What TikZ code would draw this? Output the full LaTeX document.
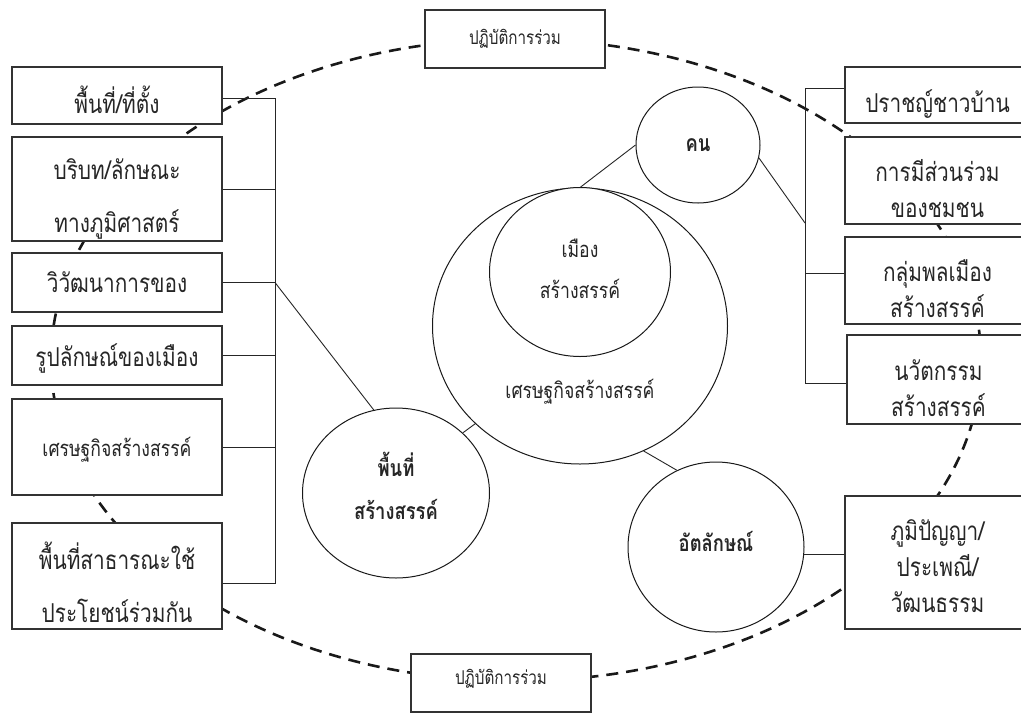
\documentclass[tikz,border=0pt]{standalone}
\usepackage{fontspec}
\newfontfamily\thai[Script=Thai,FakeStretch=0.8]{Loma}
\usetikzlibrary{shapes.geometric}
\begin{document}
\begin{tikzpicture}[x=1pt,y=-1pt,
  conn/.style={draw=black!85, line width=0.9pt},
  box/.style={draw=black!80, line width=1.1pt, fill=white, inner sep=0pt},
  txt/.style={inner sep=0pt, align=center, text=black!85},
  circ/.style={ellipse, draw=black!90, line width=1pt, fill=white, inner sep=0pt},
  lfont/.style={font=\thai\fontsize{26}{53}\selectfont},
  rfont/.style={font=\thai\fontsize{26}{36}\selectfont},
  mfont/.style={font=\thai\fontsize{22}{43}\selectfont},
  cfont/.style={font=\thai\fontsize{22}{41}\selectfont},
  sfont/.style={font=\thai\fontsize{19}{24}\selectfont},
  bfont/.style={font=\thai\bfseries\fontsize{23}{43}\selectfont},
  ring/.style={draw=black!90, line width=2.6pt, dash pattern=on 12pt off 8pt}
]
\clip (0,0) rectangle (1021,713);
\fill[white] (0,0) rectangle (1021,713);
% dashed ring
\coordinate (ec) at (516,360);
\draw[ring] (ec) ellipse [x radius=465, y radius=321];

% top / bottom boxes
\node[box,minimum width=180pt,minimum height=58pt] (T) at (515,39) {};
\node[txt,sfont] (Tt) at (T) {ปฏิบัติการร่วม};
\node[box,minimum width=180pt,minimum height=58pt] (B) at (501,683) {};
\node[txt,sfont] (Bt) at ([yshift=4pt]B) {ปฏิบัติการร่วม};

% left boxes
\node[box,minimum width=210pt,minimum height=57pt] (L1) at (117,95.5) {};
\node[txt,lfont] (L1t) at ([yshift=-4pt]L1) {พื้นที่/ที่ตั้ง};
\node[box,minimum width=210pt,minimum height=104pt] (L2) at (117,189) {};
\node[txt,lfont] (L2t) at ([yshift=-10pt]L2) {บริบท/ลักษณะ\\ทางภูมิศาสตร์};
\node[box,minimum width=210pt,minimum height=59pt] (L3) at (117,282.5) {};
\node[txt,lfont] (L3t) at (L3) {วิวัฒนาการของ};
\node[box,minimum width=210pt,minimum height=59pt] (L4) at (117,355.5) {};
\node[txt,lfont] (L4t) at ([yshift=-3pt]L4) {รูปลักษณ์ของเมือง};
\node[box,minimum width=210pt,minimum height=96pt] (L5) at (117,447) {};
\node[txt,mfont] (L5t) at ([yshift=-3pt]L5) {เศรษฐกิจสร้างสรรค์};
\node[box,minimum width=210pt,minimum height=106pt] (L6) at (117,576) {};
\node[txt,lfont] (L6t) at ([yshift=-6pt]L6) {พื้นที่สาธารณะใช้\\ประโยชน์ร่วมกัน};

% right boxes
\node[box,minimum width=185pt,minimum height=56pt] (R1) at (937.5,95) {};
\node[txt,rfont] (R1t) at ([yshift=-9pt]R1) {ปราชญ์ชาวบ้าน};
\node[box,minimum width=185pt,minimum height=87pt] (R2) at (937.5,180.5) {};
\node[txt,rfont] (R2t) at ([yshift=-8pt]R2) {การมีส่วนร่วม\\ของชมชน};
\node[box,minimum width=185pt,minimum height=87pt] (R3) at (937.5,280.5) {};
\node[txt,rfont] (R3t) at ([yshift=-8pt]R3) {กลุ่มพลเมือง\\สร้างสรรค์};
\node[box,minimum width=183pt,minimum height=89pt] (R4) at (938.5,379.5) {};
\node[txt,rfont] (R4t) at ([yshift=-9pt]R4) {นวัตกรรม\\สร้างสรรค์};
\node[box,minimum width=185pt,minimum height=133pt] (R5) at (937.5,562.5) {};
\node[txt,rfont] (R5t) at ([yshift=-4pt]R5) {ภูมิปัญญา/\\ประเพณี/\\วัฒนธรรม};

% circles
\node[circ,minimum width=295pt,minimum height=276pt] (eco) at (580,326) {};
\node[txt,mfont] (ecot) at ([yshift=-66pt]eco) {เศรษฐกิจสร้างสรรค์};
\node[circ,minimum width=181pt,minimum height=169pt] (city) at (580,272) {};
\node[txt,cfont] (cityt) at ([yshift=3pt]city) {เมือง\\สร้างสรรค์};
\node[circ,minimum width=124pt,minimum height=116pt] (kon) at (698,145) {};
\node[txt,bfont] (kont) at (kon) {คน};
\node[circ,minimum width=187pt,minimum height=170pt] (ps) at (396,493) {};
\node[txt,bfont] (pst) at ([yshift=7pt]ps) {พื้นที่\\สร้างสรรค์};
\node[circ,minimum width=176pt,minimum height=170pt] (idt) at (716,547) {};
\node[txt,bfont] (idtt) at ([yshift=6pt]idt) {อัตลักษณ์};

% left bracket
\coordinate (lbT) at (275,98);
\coordinate (lbB) at (275,583);
\draw[conn] ([yshift=-2.5pt]L1.east) -- (lbT) -- (lbB) -- ([yshift=-7pt]L6.east);
\draw[conn] (L2.east) -- (L2.east -| lbT);
\draw[conn] (L3.east) -- (L3.east -| lbT);
\draw[conn] (L4.east) -- (L4.east -| lbT);
\draw[conn] (L5.east) -- (L5.east -| lbT);
\draw[conn] (L3.east -| lbT) -- (ps.105);

% right bracket
\coordinate (rbT) at (805,88);
\coordinate (rbB) at (805,383);
\coordinate (rbM) at (805,223);
\draw[conn] ([yshift=7pt]R1.west) -- (rbT) -- (rbB) -- ([yshift=-3.5pt]R4.west);
\draw[conn] ([yshift=7.5pt]R3.west) -- ([yshift=7.5pt]R3.west -| rbT);
\draw[conn] (kon.-12) -- (rbM);

% circle links
\draw[conn] (kon.west) -- (eco.north);
\draw[conn] (eco.223) -- (ps.42);
\draw[conn] (eco.297) -- (idt.117);
\draw[conn] (idt.-5) -- (idt.-5 -| R5.west);
\end{tikzpicture}
\end{document}
